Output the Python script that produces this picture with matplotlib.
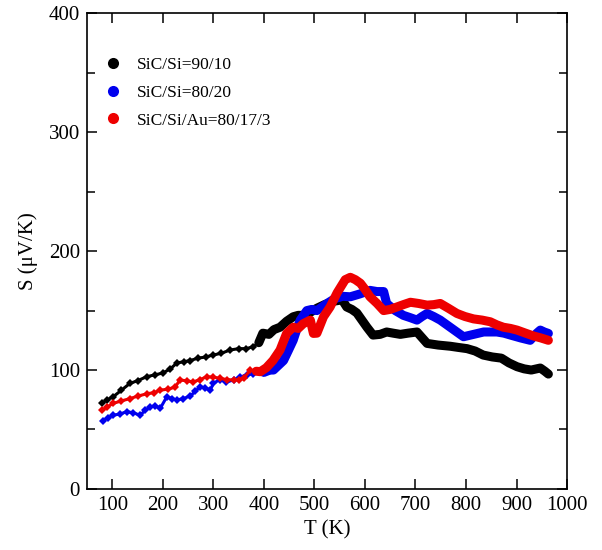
import matplotlib
matplotlib.use("Agg")
import matplotlib.pyplot as plt
from matplotlib.ticker import MultipleLocator

plt.rcParams['font.family'] = ['Liberation Serif', 'DejaVu Serif']

# SiC/Si=90/10
T_black = [79, 90, 102, 118, 135, 150, 168, 185, 200, 215, 228, 242, 254, 270, 285, 299, 315, 333,
           350, 365, 379, 390, 398, 410, 420, 432, 445, 458, 468, 478, 490, 505, 520, 540, 555,
           564, 574, 584, 594, 604, 616, 630, 643, 656, 670, 685, 703, 723, 745, 769, 785, 802,
           818, 834, 852, 870, 885, 901, 915, 929, 947, 956, 963]
S_black = [72, 75, 77.6, 83, 88.8, 91, 94.4, 96, 97.5, 101, 106, 107, 108, 110, 111, 112.6, 114, 116.8,
           118, 118, 119.6, 123, 131, 130, 134, 136, 141, 144.8, 146, 146, 148, 152, 155, 158, 159,
           153, 151, 148, 142, 136, 129.4, 130, 132, 131, 130, 131, 132, 122.4, 121, 120, 119, 118,
           116, 112.6, 111, 110, 106, 102.8, 101, 100, 101.7, 99, 96.6]

# SiC/Si=80/20
T_blue = [82, 92, 102, 115, 129, 142, 155, 165, 175, 185, 195, 208, 218, 228, 240, 254, 264, 274,
          284, 294, 300, 313, 326, 340, 352, 366, 379, 400, 412, 419, 429, 439, 448, 458, 465, 472,
          485, 495, 505, 515, 525, 540, 556, 571, 590, 610, 624, 637, 643, 660, 676, 690, 703, 713,
          723, 736, 749, 772, 795, 815, 835, 848, 861, 875, 888, 908, 927, 940, 947, 955, 963]
S_blue = [57.4, 60, 62, 63, 65, 64, 62, 66, 69, 70, 67.8, 77.6, 76, 74.8, 76, 78, 82, 86,
          85, 83, 88.8, 92, 90, 91.6, 94, 95.8, 97, 98, 100, 100, 104, 108, 116, 125, 134, 142,
          150, 151, 150, 153, 156, 160, 162, 161.6, 164, 167, 166, 166, 156, 150, 146, 144, 142, 145,
          147.6, 145, 142, 135, 128, 130, 132, 132, 132, 131, 129.4, 127, 125, 131, 133.6, 132, 130.8]

# SiC/Si/Au=80/17/3
T_red = [79, 90, 102, 118, 135, 150, 168, 182, 195, 210, 224, 234, 247, 260, 274, 287, 300, 313,
         327, 340, 350, 360, 373, 385, 393, 405, 418, 432, 445, 458, 468, 478, 492, 498, 505, 518,
         531, 545, 561, 571, 581, 591, 600, 610, 624, 637, 650, 663, 676, 690, 706, 723, 736, 749,
         765, 782, 798, 815, 832, 848, 861, 874, 888, 901, 918, 934, 948, 963]
S_red = [66, 69, 72, 74, 76, 78, 80, 81, 83, 84, 85.5, 91.6, 91, 90, 92, 94.4, 94, 93,
         92, 91.6, 92, 93, 100, 99, 98.6, 102, 108, 116.8, 130.8, 136, 135, 139, 142, 130.8, 131, 144.8,
         153, 165, 176, 178, 176, 173, 168, 161.6, 156, 150, 151, 153, 155, 157, 156, 154.6, 155, 156,
         152, 147.6, 145, 143, 142, 140.6, 138, 136, 135, 133.6, 131, 128.6, 127, 125]

xticks = [100, 200, 300, 400, 500, 600, 700, 800, 900, 1000]
yticks = [0, 100, 200, 300, 400]

fig = plt.figure(figsize=(6.02, 5.5), dpi=100)
ax = fig.add_axes([0.1445, 0.111, 0.7975, 0.8648])

series = [(T_black, S_black, 'black', 'SiC/Si=90/10'),
          (T_blue, S_blue, '#0000ee', 'SiC/Si=80/20'),
          (T_red, S_red, '#ee0000', 'SiC/Si/Au=80/17/3')]
for T, S, c, lab in series:
    lo = [i for i, t in enumerate(T) if t <= 392]
    hi = [i for i, t in enumerate(T) if t >= 385]
    ax.plot([T[i] for i in lo], [S[i] for i in lo], linestyle='-', lw=2.2,
            color=c, marker='D', ms=4.2, mew=0)
    ax.plot([T[i] for i in hi], [S[i] for i in hi], linestyle='-', lw=6.5, color=c,
            solid_joinstyle='round', solid_capstyle='round')
    ax.plot([], [], linestyle='none', marker='o', ms=8, color=c, mew=0, label=lab)

ax.set_xlim(50, 1000)
ax.set_ylim(0, 400)
ax.set_xticks(xticks)
ax.set_yticks(yticks)
ax.yaxis.set_minor_locator(MultipleLocator(50))
ax.tick_params(which='both', direction='in', top=True, right=True, width=1.1, labelsize=15)
ax.tick_params(which='major', length=7, pad=5)
ax.tick_params(which='minor', length=6)
for sp in ax.spines.values():
    sp.set_linewidth(1.2)

ax.set_xlabel('T (K)', fontsize=15, labelpad=4)
ax.set_ylabel('S (\u03bcV/K)', fontsize=15, labelpad=8)

leg = ax.legend(loc='upper left', bbox_to_anchor=(0.0, 0.945), frameon=False, fontsize=12.5,
                handlelength=1.0, handletextpad=0.9, labelspacing=0.67, borderaxespad=0.6)

fig.savefig('out.png', dpi=100)
